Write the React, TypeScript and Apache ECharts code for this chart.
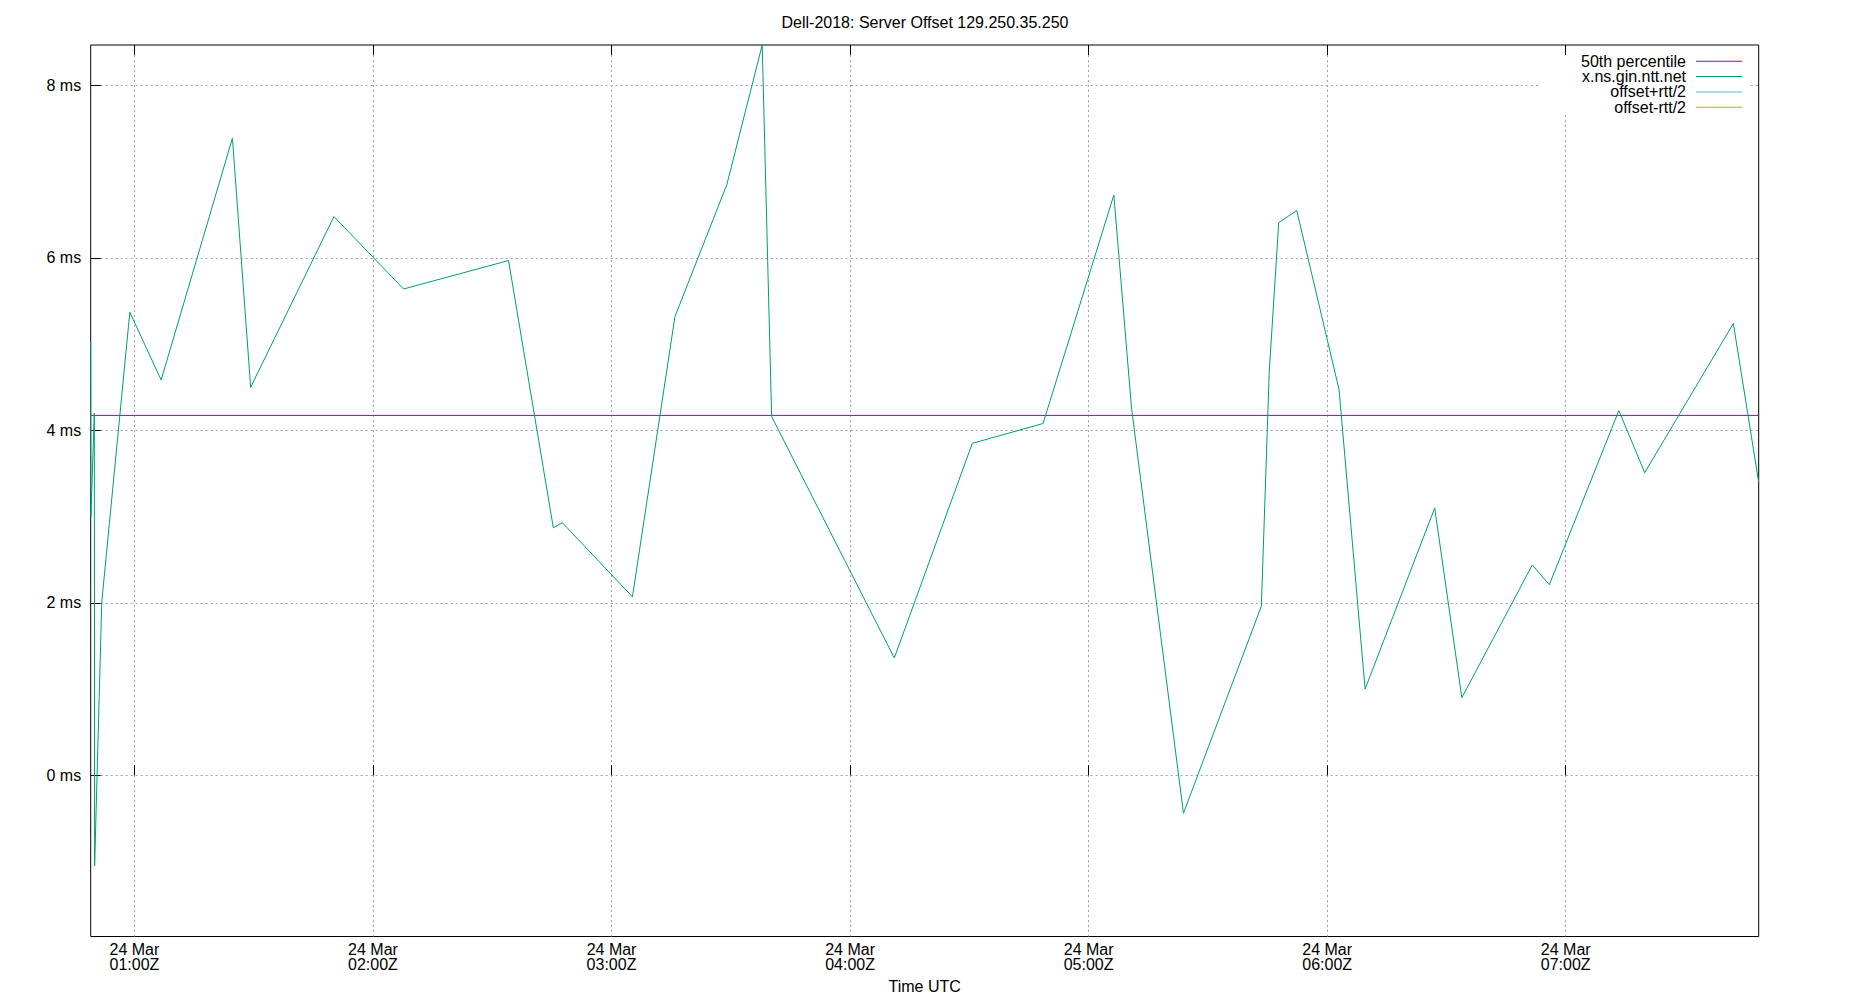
import React, { useEffect, useRef } from "react";
import * as echarts from "echarts";

const FONT = "'Liberation Sans', Arial, sans-serif";

const TITLE = "Dell-2018: Server Offset 129.250.35.250";
const X_NAME = "Time UTC";
const DAY_LABEL = "24 Mar";

// minutes since 00:00Z on 24 Mar
const TIMES = [
  49.0, 49.05, 49.91, 49.99, 51.78, 58.84, 66.72, 84.65, 89.23, 110.18,
  127.69, 154.1, 165.36, 167.62, 185.26, 195.95, 209.0, 217.9, 220.27, 251.13,
  270.73, 288.54, 306.34, 310.79, 323.85, 343.44, 345.45, 347.82, 352.35, 363.0,
  369.54, 387.05, 393.87, 411.6, 415.88, 433.36, 439.87, 462.16, 468.54,
];
// offset in ms
const OFFSETS = [
  5.03, 3.0, 4.2, -1.05, 2.01, 5.37, 4.585, 7.39, 4.5, 6.48,
  5.64, 5.97, 2.87, 2.93, 2.07, 5.32, 6.85, 8.47, 4.16, 1.36,
  3.85, 4.08, 6.73, 4.26, -0.44, 1.96, 4.7, 6.41, 6.55, 4.47,
  1.0, 3.1, 0.9, 2.44, 2.21, 4.23, 3.51, 5.24, 3.4,
];
const MEDIAN = 4.174;

const X_TICKS = [60, 120, 180, 240, 300, 360, 420];
const Y_TICKS = [0, 2, 4, 6, 8];
const Y_MIN = -1.87;
const Y_MAX = 8.47;

const SERIES_NAMES = ["50th percentile", "x.ns.gin.ntt.net", "offset+rtt/2", "offset-rtt/2"];
const SERIES_COLORS = ["#9400d3", "#009e73", "#56b4e9", "#e69f00"];

const pad = (n: number) => (n < 10 ? "0" + n : "" + n);

export default function App() {
  const ref = useRef<HTMLDivElement>(null);
  useEffect(() => {
    if (!ref.current) return;
    const chart = echarts.init(ref.current, undefined, { renderer: "svg" });
    const xMin = Math.min(...TIMES);
    const xMax = Math.max(...TIMES);
    const gridStyle = { color: "#a0a0a0", type: [2, 3] as any, width: 1 };
    const tickStyle = { color: "#000", width: 1 };
    const option: any = {
      animation: false,
      backgroundColor: "#fff",
      textStyle: { fontFamily: FONT },
      title: {
        text: TITLE,
        left: "center",
        top: 9.5,
        textStyle: { fontSize: 16, fontWeight: "normal", color: "#000", fontFamily: FONT },
      },
      grid: {
        left: 90.7,
        right: 91.3,
        top: 45,
        bottom: 63.5,
        show: true,
        borderColor: "#000",
        borderWidth: 1,
        backgroundColor: "transparent",
        containLabel: false,
        outerBoundsMode: "none",
      },
      legend: {
        data: SERIES_NAMES,
        orient: "vertical",
        right: 108,
        top: 53.3,
        align: "right",
        icon: "rect",
        itemWidth: 46,
        itemHeight: 1,
        itemGap: -0.7,
        padding: 0,
        selectedMode: false,
        textStyle: {
          fontSize: 16,
          color: "#000",
          fontFamily: FONT,
          lineHeight: 15.4,
          padding: [0, 5, 0, 0],
        },
      },
      graphic: {
        elements: [
          {
            type: "rect",
            left: 1540,
            top: 46,
            z: 1,
            shape: { width: 209, height: 69 },
            style: { fill: "#fff" },
          },
        ],
      },
      xAxis: [
        {
          type: "value",
          position: "bottom",
          min: xMin,
          max: xMax,
          axisLine: { show: false },
          axisTick: { show: true, inside: true, length: 10, customValues: X_TICKS, lineStyle: tickStyle },
          axisLabel: {
            customValues: X_TICKS,
            formatter: (v: number) => `${DAY_LABEL}\n${pad(Math.floor(v / 60))}:${pad(v % 60)}Z`,
            margin: 5,
            fontSize: 16,
            lineHeight: 15.5,
            color: "#000",
            fontFamily: FONT,
          },
          splitLine: { show: true, lineStyle: gridStyle },
          name: X_NAME,
          nameLocation: "middle",
          nameGap: 42,
          nameTextStyle: { fontSize: 16, color: "#000", fontFamily: FONT },
        },
        {
          type: "value",
          position: "top",
          min: xMin,
          max: xMax,
          z: 10,
          axisLine: { show: false },
          axisTick: { show: true, inside: true, length: 10, customValues: X_TICKS, lineStyle: tickStyle },
          axisLabel: { show: false },
          splitLine: { show: false },
        },
      ],
      yAxis: {
        type: "value",
        min: Y_MIN,
        max: Y_MAX,
        axisLine: { show: false },
        axisTick: { show: true, inside: true, length: 10, customValues: Y_TICKS, lineStyle: tickStyle },
        axisLabel: {
          customValues: Y_TICKS,
          formatter: (v: number) => `${v} ms`,
          margin: 9.5,
          fontSize: 16,
          color: "#000",
          fontFamily: FONT,
        },
        splitLine: { show: true, lineStyle: gridStyle },
      },
      series: [
        {
          name: SERIES_NAMES[0],
          type: "line",
          data: [
            [xMin, MEDIAN],
            [xMax, MEDIAN],
          ],
          symbol: "none",
          showSymbol: false,
          lineStyle: { color: SERIES_COLORS[0], width: 1 },
          itemStyle: { color: SERIES_COLORS[0] },
        },
        {
          name: SERIES_NAMES[1],
          type: "line",
          data: TIMES.map((t, i) => [t, OFFSETS[i]]),
          symbol: "none",
          showSymbol: false,
          lineStyle: { color: SERIES_COLORS[1], width: 1 },
          itemStyle: { color: SERIES_COLORS[1] },
        },
        {
          name: SERIES_NAMES[2],
          type: "line",
          data: [],
          symbol: "none",
          lineStyle: { color: SERIES_COLORS[2], width: 1 },
          itemStyle: { color: SERIES_COLORS[2] },
        },
        {
          name: SERIES_NAMES[3],
          type: "line",
          data: [],
          symbol: "none",
          lineStyle: { color: SERIES_COLORS[3], width: 1 },
          itemStyle: { color: SERIES_COLORS[3] },
        },
      ],
    };
    chart.setOption(option);
    return () => chart.dispose();
  }, []);
  return (
    <div
      ref={ref}
      style={{ position: "fixed", left: 0, top: 0, width: 1850, height: 1000, background: "#fff" }}
    />
  );
}
